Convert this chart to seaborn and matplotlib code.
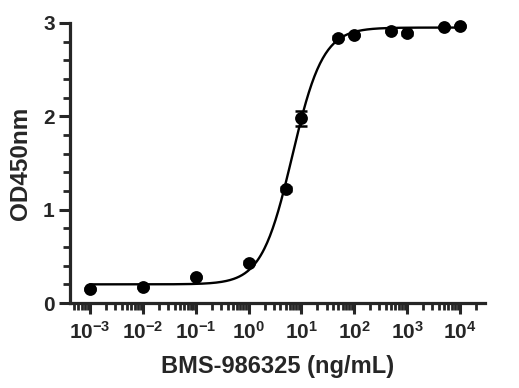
import numpy as np
import pandas as pd
import seaborn as sns
import matplotlib
matplotlib.use('Agg')
import matplotlib.pyplot as plt
from matplotlib.ticker import FixedLocator, LogLocator, MultipleLocator, NullFormatter

# data
conc = [0.001, 0.01, 0.1, 1, 5, 10, 50, 100, 500, 1000, 5000, 10000]
od450 = [0.15, 0.17, 0.28, 0.43, 1.22, 1.98, 2.84, 2.87, 2.915, 2.89, 2.955, 2.97]
od_err = [0.01, 0.01, 0.01, 0.015, 0.02, 0.08, 0.015, 0.015, 0.01, 0.015, 0.01, 0.01]

# 4PL fit parameters (estimated from the drawn curve)
fit_bottom = 0.2
fit_top = 2.95
fit_ec50 = 6.7
fit_hill = 1.5

x_ticks = [1e-3, 1e-2, 1e-1, 1e0, 1e1, 1e2, 1e3, 1e4]
x_tick_labels = [r'$\mathrm{10^{-3}}$', r'$\mathrm{10^{-2}}$', r'$\mathrm{10^{-1}}$',
                 r'$\mathrm{10^{0}}$', r'$\mathrm{10^{1}}$', r'$\mathrm{10^{2}}$',
                 r'$\mathrm{10^{3}}$', r'$\mathrm{10^{4}}$']
y_ticks = [0, 1, 2, 3]

sns.set_style('ticks')
plt.rcParams['font.family'] = ['Liberation Sans', 'DejaVu Sans']
plt.rcParams['mathtext.fontset'] = 'custom'
plt.rcParams['mathtext.rm'] = 'Liberation Sans:bold'
plt.rcParams['mathtext.bf'] = 'Liberation Sans:bold'

df = pd.DataFrame({'conc': conc, 'od': od450, 'err': od_err})

fig, ax = plt.subplots(figsize=(5.19, 3.88), dpi=100)
fig.subplots_adjust(left=0.135, right=0.934, bottom=0.219, top=0.941)

# fitted curve
xs = np.logspace(np.log10(conc[0]), np.log10(conc[-1]), 400)
ys = fit_bottom + (fit_top - fit_bottom) / (1 + (fit_ec50 / xs) ** fit_hill)
sns.lineplot(x=xs, y=ys, ax=ax, color='black', linewidth=1.7, clip_on=False)

ax.errorbar(df['conc'], df['od'], yerr=df['err'], fmt='none', ecolor='black',
            elinewidth=1.5, capsize=4, capthick=1.8, zorder=3)
sns.scatterplot(data=df, x='conc', y='od', ax=ax, color='black', s=85,
                edgecolor='black', linewidth=0, zorder=4, clip_on=False)

ax.set_xscale('log')
ax.set_xlim(10 ** -3.38, 10 ** 4.47)
ax.set_ylim(0, 3)

ax.xaxis.set_major_locator(FixedLocator(x_ticks))
ax.set_xticklabels(x_tick_labels)
ax.xaxis.set_minor_locator(LogLocator(base=10, subs=np.arange(2, 10), numticks=30))
ax.xaxis.set_minor_formatter(NullFormatter())
ax.set_yticks(y_ticks)
ax.yaxis.set_minor_locator(MultipleLocator(0.2))

sns.despine(ax=ax)
for s in ['left', 'bottom']:
    ax.spines[s].set_linewidth(2.3)
ax.tick_params(which='major', length=8, width=2.2, labelsize=15, pad=3)
ax.tick_params(axis='x', which='major', pad=5)
ax.tick_params(which='minor', length=5, width=2.0)
for lab in ax.get_yticklabels():
    lab.set_fontweight('bold')

ax.set_xlabel('BMS-986325 (ng/mL)', fontsize=17, fontweight='bold', labelpad=9)
ax.set_ylabel('OD450nm', fontsize=17.5, fontweight='bold', labelpad=8)

fig.savefig('out.png', dpi=100)
